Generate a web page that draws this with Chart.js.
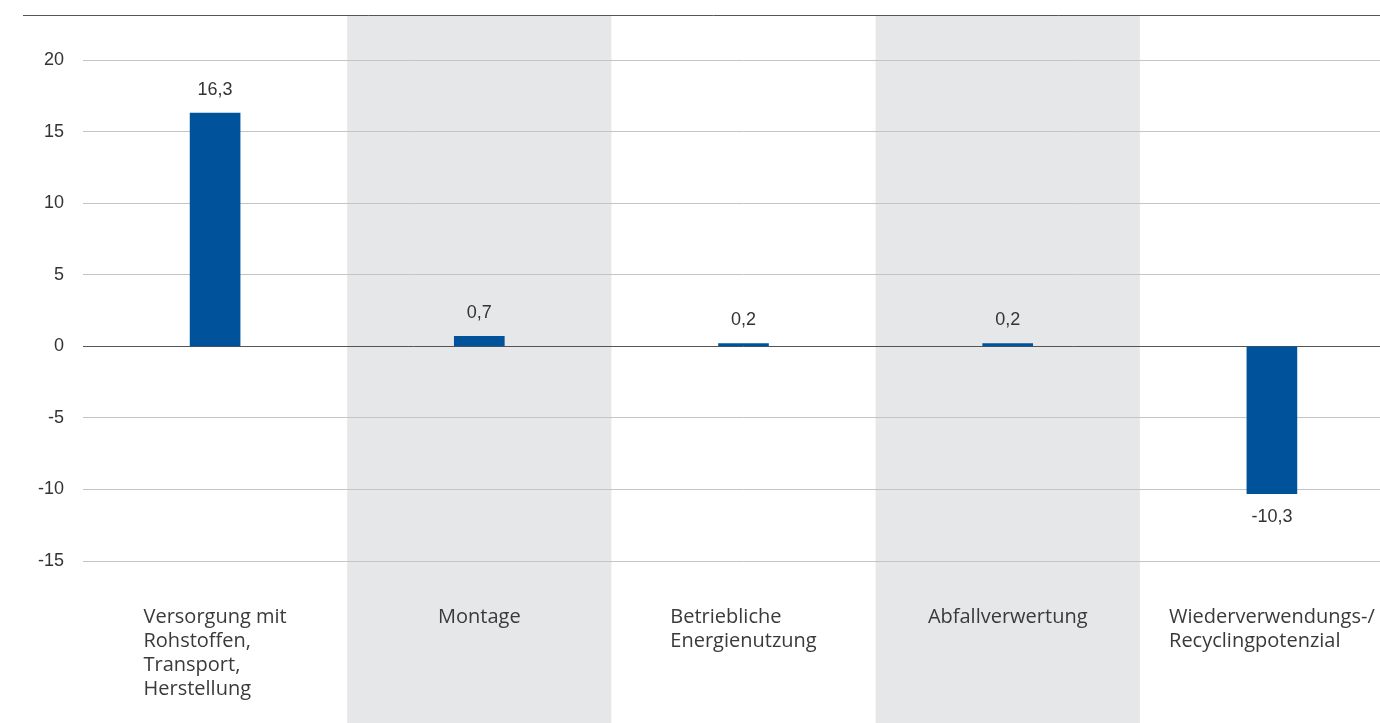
<!DOCTYPE html>
<html>
<head>
<meta charset="utf-8">
<script src="https://cdn.jsdelivr.net/npm/chart.js@4/dist/chart.umd.min.js"></script>
<style>
  html, body { margin: 0; padding: 0; background: #fff; overflow: hidden; }
  #wrap { width: 1404px; height: 723px; }
</style>
</head>
<body>
<div id="wrap"><canvas id="canvas"></canvas></div>
<script>
// data
const categories = [
  ["Versorgung mit", "Rohstoffen,", "Transport,", "Herstellung"],
  ["Montage"],
  ["Betriebliche", "Energienutzung"],
  ["Abfallverwertung"],
  ["Wiederverwendungs-/", "Recyclingpotenzial"]
];
const values = [16.3, 0.7, 0.2, 0.2, -10.3];
const yTicks = [-15, -10, -5, 0, 5, 10, 15, 20];

const barColor = "#00529b";
const bandColor = "#e6e7e9";
const labelFont = "20px 'Open Sans'";

const bgBands = {
  id: "bgBands",
  beforeDraw(chart) {
    const ctx = chart.ctx;
    const x = chart.scales.x;
    const area = chart.chartArea;
    const w = x.getPixelForValue(1) - x.getPixelForValue(0);
    ctx.save();
    ctx.fillStyle = bandColor;
    for (let i = 1; i < categories.length; i += 2) {
      const cx = x.getPixelForValue(i);
      ctx.fillRect(cx - w / 2, area.top, w, chart.height - area.top);
    }
    ctx.restore();
  },
  afterDraw(chart) {
    const ctx = chart.ctx;
    const area = chart.chartArea;
    // top rule
    ctx.save();
    ctx.strokeStyle = "#555";
    ctx.lineWidth = 1;
    ctx.beginPath();
    ctx.moveTo(23, area.top + 0.5);
    ctx.lineTo(chart.width, area.top + 0.5);
    ctx.stroke();

    // category labels: block centred, lines left aligned
    const x = chart.scales.x;
    ctx.font = labelFont;
    ctx.fillStyle = "#3a3a3a";
    ctx.textBaseline = "middle";
    ctx.textAlign = "left";
    categories.forEach((lines, i) => {
      const bw = Math.max(...lines.map(l => ctx.measureText(l).width));
      const left = x.getPixelForValue(i) - bw / 2;
      lines.forEach((l, j) => ctx.fillText(l, left, area.bottom + 56 + j * 24));
    });
    ctx.restore();
  },
  afterDatasetsDraw(chart) {
    const ctx = chart.ctx;
    const meta = chart.getDatasetMeta(0);
    ctx.save();
    ctx.font = "18px 'Liberation Sans'";
    ctx.fillStyle = "#333";
    ctx.textAlign = "center";
    ctx.textBaseline = "middle";
    meta.data.forEach((bar, i) => {
      const v = values[i];
      const txt = v.toFixed(1).replace(".", ",");
      const y = v >= 0 ? bar.y - 23 : bar.y + 23;
      ctx.fillText(txt, bar.x, y);
    });
    ctx.restore();
  }
};

function draw() {
  const ctx = document.getElementById("canvas");
  new Chart(ctx, {
    type: "bar",
    data: {
      labels: categories,
      datasets: [{
        data: values,
        backgroundColor: barColor,
        borderWidth: 0,
        barThickness: 50
      }]
    },
    options: {
      responsive: true,
      maintainAspectRatio: false,
      animation: false,
      layout: { padding: { top: 15, bottom: 162, left: 0, right: 0 } },
      plugins: {
        legend: { display: false },
        tooltip: { enabled: false }
      },
      scales: {
        x: {
          display: false
        },
        y: {
          min: -15,
          max: 23.15,
          afterFit(scale) {
            scale.width = 83;
            scale.paddingTop = 0;
            scale.paddingBottom = 0;
          },
          afterBuildTicks(scale) {
            scale.ticks = yTicks.map(v => ({ value: v }));
          },
          border: { display: false },
          grid: {
            drawTicks: false,
            color: c => (c.tick && c.tick.value === 0 ? "#555" : "#c4c4c4"),
            lineWidth: 1
          },
          ticks: {
            padding: 19,
            color: "#333",
            font: { family: "'Liberation Sans'", size: 18 },
            callback: v => String(v)
          }
        }
      }
    },
    plugins: [bgBands]
  });
}

Promise.all([
  document.fonts.load(labelFont),
  document.fonts.load("18px 'Liberation Sans'")
]).then(draw, draw);
</script>
</body>
</html>
